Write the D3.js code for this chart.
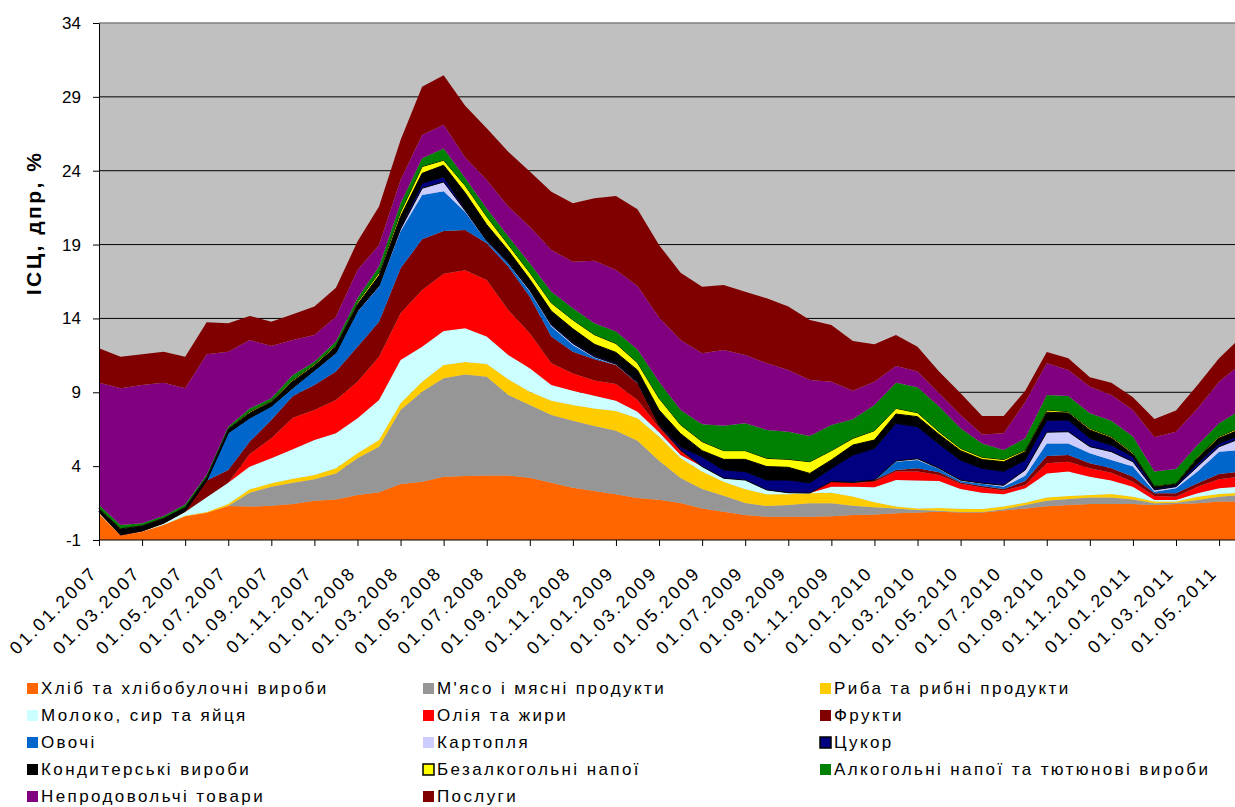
<!DOCTYPE html>
<html>
<head>
<meta charset="utf-8">
<script src="https://cdn.jsdelivr.net/npm/d3@7"></script>
<style>
body { margin: 0; background: #fff; }
text { font-family: Arial, "Liberation Sans", sans-serif; fill: #000; }
</style>
</head>
<body>
<svg id="chart" width="1235" height="807"></svg>
<script>
// months 01.2007 .. 06.2011
var months = d3.timeMonth.range(new Date(2007, 0, 1), new Date(2011, 6, 1));
var fmt = d3.timeFormat("%d.%m.%Y");
var monthLabels = months.map(fmt);

var yTicks = [-1, 4, 9, 14, 19, 24, 29, 34];

// contributions to CPI, pp
var khlib = [0.76,-0.70,-0.44,0.02,0.60,0.85,1.30,1.26,1.32,1.44,1.66,1.75,2.05,2.23,2.79,2.95,3.29,3.33,3.36,3.36,3.22,2.88,2.54,2.32,2.09,1.85,1.73,1.50,1.14,0.92,0.69,0.58,0.58,0.58,0.60,0.69,0.72,0.81,0.87,0.92,0.87,0.87,1.00,1.14,1.28,1.37,1.44,1.44,1.44,1.37,1.44,1.48,1.60,1.60];
var miaso = [0,0,0,0,0,0,0,0.94,1.29,1.44,1.45,1.76,2.48,3.09,5.01,6.09,6.66,6.87,6.70,5.46,4.92,4.58,4.54,4.40,4.31,3.87,2.63,1.70,1.31,1.08,0.81,0.72,0.79,0.90,0.88,0.63,0.49,0.33,0.16,0.06,0.03,0.03,0.08,0.23,0.37,0.41,0.43,0.43,0.31,0.11,0.09,0.23,0.33,0.45];
var ryba = [0.04,0,0,0.02,0.05,0.05,0.14,0.23,0.23,0.27,0.29,0.34,0.34,0.45,0.45,0.68,0.90,0.85,0.86,1.06,0.90,0.97,1.06,1.19,1.33,1.52,1.64,1.35,1.18,0.95,0.93,0.80,0.73,0.68,0.72,0.63,0.34,0.12,0.11,0.18,0.22,0.20,0.18,0.16,0.23,0.20,0.18,0.24,0.18,0.12,0.07,0.22,0.18,0.15];
var moloko = [0.05,0,0.02,0.06,0.25,0.99,1.44,1.54,1.69,1.99,2.37,2.37,2.37,2.71,2.94,2.37,2.30,2.28,1.85,1.65,1.58,1.06,0.97,0.86,0.70,0.45,0.30,0.20,0.34,0.23,0.63,0.29,0.10,0.02,0.40,0.66,1.02,1.80,1.88,1.84,1.33,1.10,0.84,0.97,1.63,1.65,1.24,0.91,0.68,0.11,0.11,0.23,0.39,0.41];
var oliia = [0,0,0,0,0,0,0,0.85,1.35,2.14,2.03,2.26,2.48,2.93,3.16,3.84,3.88,3.93,3.83,3.04,2.37,1.47,1.17,1.02,1.13,0.79,0.30,0.25,0,0,0,0,0,0,0.35,0.27,0.38,0.57,0.61,0.40,0.35,0.35,0.25,0.22,0.69,0.67,0.56,0.54,0.34,0.27,0.22,0.45,0.61,0.68];
var frukty = [0.05,0.05,0.04,0.05,0.05,1.13,0.86,0.84,1.24,1.47,1.69,1.92,2.37,2.37,3.04,3.43,2.89,2.73,2.49,2.94,2.48,1.81,1.47,1.44,1.29,1.13,0.15,0.10,0,0,0,0,0,0,0,0.02,0.11,0.11,0.22,0.18,0.10,0.10,0.10,0.28,0.49,0.45,0.34,0.29,0.34,0.18,0.23,0.23,0.36,0.34];
var ovochi = [0,0,0,0,0,0,2.48,1.58,0.91,0.52,0.96,1.24,2.37,2.37,2.51,3.00,2.69,1.21,0.11,0.19,0.33,0.68,0.45,0.10,0,0,0,0,0,0,0,0,0,0,0,0,0,0.56,0.57,0.22,0.10,0.15,0.15,0.35,0.85,0.79,0.68,0.57,0.68,0.11,0.34,0.79,1.51,1.46];
var kartoplia = [0,0,0,0,0,0,0.03,0.02,0.02,0.03,0.03,0.03,0.04,0.05,0.15,0.45,0.63,0.10,0.05,0.05,0.10,0.10,0.10,0.07,0.05,0.04,0.02,0,0,0,0,0,0,0,0,0,0,0.05,0.08,0.05,0.05,0.05,0.10,0.39,0.76,0.79,0.45,0.56,0.33,0.12,0.11,0.34,0.34,0.79];
var tsukor = [0.02,0.05,0.03,0.02,0.02,0.02,0.02,0.02,0.02,0.02,0.02,0.03,0.03,0.05,0.15,0.34,0.34,0.10,0.10,0.10,0.10,0.10,0.10,0.10,0.10,0.10,0.08,0.20,0.67,0.56,0.57,0.67,0.86,0.70,0.90,1.85,2.15,2.55,2.17,1.65,1.35,1.00,0.95,0.68,0.80,0.79,0.56,0.45,0.34,0.11,0.11,0.22,0.22,0.23];
var kondyterski = [0.18,0.35,0.30,0.28,0.23,0.21,0.23,0.32,0.28,0.43,0.30,0.40,0.42,0.65,0.70,0.67,0.79,1.10,1.00,0.75,0.65,0.85,0.90,0.75,0.70,0.75,0.95,0.90,0.41,0.72,0.83,0.91,0.86,0.63,0.57,0.68,0.56,0.63,0.68,0.65,0.65,0.60,0.65,0.56,0.55,0.48,0.57,0.47,0.16,0.10,0.06,0.36,0.36,0.39];
var bezalk = [0.05,0.05,0.05,0.05,0.05,0.05,0.05,0.10,0.08,0.10,0.10,0.10,0.15,0.20,0.30,0.46,0.34,0.50,0.55,0.40,0.45,0.55,0.60,0.65,0.60,0.50,0.80,0.60,0.61,0.59,0.59,0.56,0.54,0.79,0.63,0.45,0.63,0.38,0.27,0.18,0.15,0.15,0.15,0.11,0.15,0.09,0.11,0.10,0.11,0.08,0.06,0.09,0.10,0.13];
var alkohol = [0.22,0.22,0.13,0.12,0.16,0.12,0.12,0.21,0.16,0.32,0.17,0.23,0.26,0.41,0.59,0.56,0.79,0.50,0.55,0.54,0.63,0.76,0.79,0.77,0.81,0.90,1.12,1.00,1.17,1.69,1.85,1.92,1.87,1.74,1.74,1.29,1.74,1.74,1.72,1.70,1.36,0.94,0.64,0.79,1.02,1.06,1.02,1.08,1.09,0.95,0.97,0.79,0.90,1.17];
var neprod = [8.28,9.25,9.36,9.03,7.86,8.15,5.08,4.63,3.54,2.37,1.81,1.69,1.92,1.46,1.58,1.58,1.62,1.40,1.92,2.03,2.48,2.82,3.15,4.24,4.17,4.30,4.35,4.74,4.81,5.12,4.63,4.51,4.18,3.79,2.93,1.94,1.58,1.13,1.06,0.90,0.90,0.61,1.13,2.47,2.14,1.76,1.80,1.74,1.80,2.32,2.52,2.48,2.82,3.10];
var posluhy = [2.33,2.14,2.08,2.10,2.14,2.17,1.92,1.63,1.65,1.74,1.92,1.96,1.92,2.60,2.71,3.27,3.34,3.50,3.50,3.72,3.73,3.95,3.95,4.22,5.01,5.19,4.90,4.56,4.51,4.40,4.28,4.40,4.29,4.07,3.84,3.36,2.53,2.10,1.69,1.47,1.47,1.25,1.18,0.75,0.77,0.79,0.63,0.83,0.86,1.24,1.43,1.58,1.58,1.80];

var names = ["Хліб та хлібобулочні вироби", "М'ясо і мясні продукти", "Риба та рибні продукти",
  "Молоко, сир та яйця", "Олія та жири", "Фрукти", "Овочі", "Картопля", "Цукор",
  "Кондитерські вироби", "Безалкогольні напої", "Алкогольні напої та тютюнові вироби",
  "Непродовольчі товари", "Послуги"];
var colors = ["#ff6600", "#969696", "#ffcc00", "#ccffff", "#ff0000", "#800000", "#0066cc",
  "#ccccff", "#000080", "#000000", "#ffff00", "#008000", "#800080", "#800000"];
var outlined = ["Цукор", "Безалкогольні напої"];

var seriesValues = [khlib, miaso, ryba, moloko, oliia, frukty, ovochi, kartoplia, tsukor,
  kondyterski, bezalk, alkohol, neprod, posluhy];

// table for d3.stack
var table = monthLabels.map(function(m, i) {
  var row = { month: m };
  names.forEach(function(n, k) { row[n] = seriesValues[k][i]; });
  return row;
});

var svg = d3.select("#chart");

var x = d3.scalePoint()
  .domain(monthLabels)
  .range([99, 99 + 53 * 21.54]);

var y = d3.scaleLinear()
  .domain([-1, 34])
  .range([540, 23]);

// plot background
svg.append("rect")
  .attr("x", x.range()[0]).attr("y", y(34))
  .attr("width", x.range()[1] - x.range()[0] + 10).attr("height", y(-1) - y(34))
  .attr("fill", "#c0c0c0");

// gridlines
svg.append("g").selectAll("line")
  .data(yTicks.filter(function(t) { return t > -1 && t < 34; }))
  .enter().append("line")
  .attr("x1", x.range()[0]).attr("x2", 1235)
  .attr("y1", function(d) { return y(d); }).attr("y2", function(d) { return y(d); })
  .attr("stroke", "#000").attr("stroke-width", 1);

svg.append("line")
  .attr("x1", x.range()[0]).attr("x2", 1235)
  .attr("y1", y(34)).attr("y2", y(34))
  .attr("stroke", "#808080").attr("stroke-width", 1.5);

// stacked areas (plain cumulative sums, like the spreadsheet)
var stacked = d3.stack()
  .keys(names)
  .order(d3.stackOrderNone)
  .offset(d3.stackOffsetNone)(table);

var area = function(k) {
  return d3.area()
    .x(function(d) { return x(d.data.month); })
    .y0(function(d) { return k === 0 ? y(-1) : y(d[0]); })
    .y1(function(d) { return y(d[1]); });
};

svg.append("g").selectAll("path")
  .data(stacked)
  .enter().append("path")
  .attr("d", function(s, k) { return area(k)(s); })
  .attr("fill", function(s, k) { return colors[k]; })
  .attr("stroke", function(s) { return outlined.indexOf(s.key) >= 0 ? "#000" : "none"; })
  .attr("stroke-width", 1);

// axes
var xAxis = d3.axisBottom(x)
  .tickValues(monthLabels.filter(function(m, i) { return i % 2 === 0; }))
  .tickSize(6)
  .tickSizeOuter(0);

var gx = svg.append("g")
  .attr("transform", "translate(0," + y(-1) + ")")
  .call(xAxis);
gx.select(".domain").attr("stroke", "#000").attr("d", "M" + x.range()[0] + ",0H1235");
gx.selectAll(".tick line").attr("stroke", "#000");
gx.selectAll(".tick text")
  .attr("x", 0).attr("y", 0).attr("dy", 0)
  .style("text-anchor", "end")
  .style("font-size", "18px")
  .style("letter-spacing", "2.5px")
  .attr("transform", "translate(-1,34) rotate(-45)");

var yAxis = d3.axisLeft(y)
  .tickValues(yTicks)
  .tickFormat(function(d) { return String(d); })
  .tickSize(6)
  .tickSizeOuter(0)
  .tickPadding(12);

var gy = svg.append("g")
  .attr("transform", "translate(" + x.range()[0] + ",0)")
  .call(yAxis);
gy.select(".domain").attr("stroke", "#000");
gy.selectAll(".tick line").attr("stroke", "#000");
gy.selectAll(".tick text").style("font-size", "17px");

svg.append("text")
  .attr("transform", "translate(41,223) rotate(-90)")
  .attr("text-anchor", "middle")
  .style("font-size", "21px")
  .style("font-weight", "bold")
  .style("letter-spacing", "2.5px")
  .text("ІСЦ, дпр, %");

// legend, 3 columns
var colX = [27, 423, 820];
var rowY = [689, 716, 743, 770, 797];

var leg = svg.append("g").selectAll("g")
  .data(names)
  .enter().append("g")
  .attr("transform", function(d, i) {
    return "translate(" + colX[i % 3] + "," + rowY[Math.floor(i / 3)] + ")";
  });

leg.append("rect")
  .attr("x", 0).attr("y", -6)
  .attr("width", 11).attr("height", 11)
  .attr("fill", function(d, i) { return colors[i]; })
  .attr("stroke", function(d) { return outlined.indexOf(d) >= 0 ? "#000" : "none"; })
  .attr("stroke-width", 1.5);

leg.append("text")
  .attr("x", 14).attr("y", 5)
  .style("font-size", "17px")
  .style("letter-spacing", "2.4px")
  .text(function(d) { return d; });
</script>
</body>
</html>
